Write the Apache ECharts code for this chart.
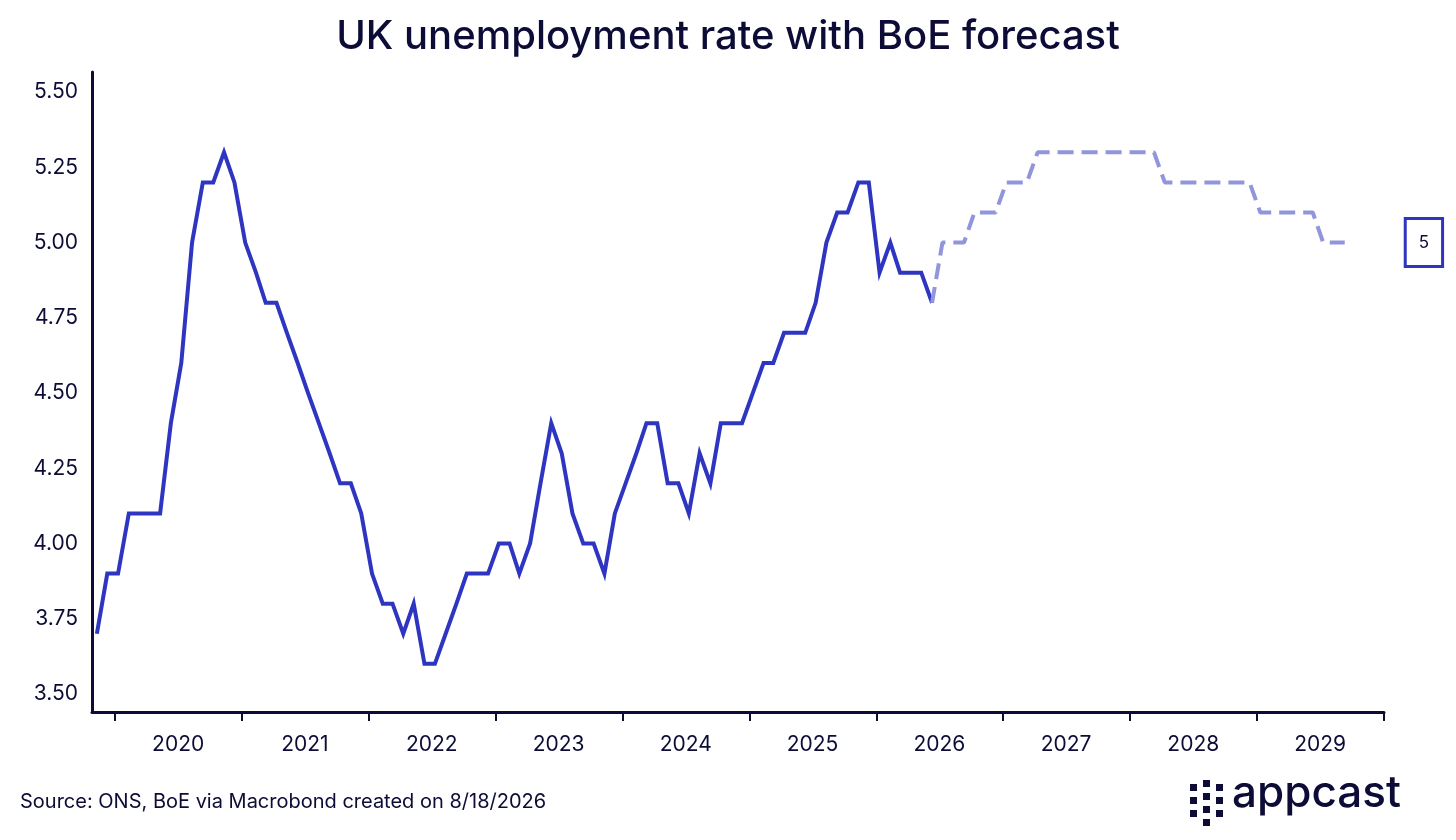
<!DOCTYPE html>
<html lang="en" style="height: 100%">
<head>
  <meta charset="utf-8" />
</head>
<body style="height: 100%; margin: 0; background: #fff">
  <div id="container" style="width: 1456px; height: 840px;"></div>
  <script src="https://cdn.jsdelivr.net/npm/echarts@6/dist/echarts.min.js"></script>
  <script type="text/javascript">
    // monthly unemployment rate (%), actual from Nov 2019
    var actualStart = [2019, 11];
    var actualValues = [
      3.7, 3.9,
      3.9, 4.1, 4.1, 4.1, 4.1, 4.4, 4.6, 5.0, 5.2, 5.2, 5.3, 5.2,
      5.0, 4.9, 4.8, 4.8, 4.7, 4.6, 4.5, 4.4, 4.3, 4.2, 4.2, 4.1,
      3.9, 3.8, 3.8, 3.7, 3.8, 3.6, 3.6, 3.7, 3.8, 3.9, 3.9, 3.9,
      4.0, 4.0, 3.9, 4.0, 4.2, 4.4, 4.3, 4.1, 4.0, 4.0, 3.9, 4.1,
      4.2, 4.3, 4.4, 4.4, 4.2, 4.2, 4.1, 4.3, 4.2, 4.4, 4.4, 4.4,
      4.5, 4.6, 4.6, 4.7, 4.7, 4.7, 4.8, 5.0, 5.1, 5.1, 5.2, 5.2,
      4.9, 5.0, 4.9, 4.9, 4.9, 4.8
    ];
    // BoE forecast, monthly from Jun 2026
    var forecastStart = [2026, 6];
    var forecastValues = [
      4.8, 5.0, 5.0, 5.0, 5.1, 5.1, 5.1,
      5.2, 5.2, 5.2, 5.3, 5.3, 5.3, 5.3, 5.3, 5.3, 5.3, 5.3, 5.3,
      5.3, 5.3, 5.3, 5.2, 5.2, 5.2, 5.2, 5.2, 5.2, 5.2, 5.2, 5.2,
      5.1, 5.1, 5.1, 5.1, 5.1, 5.1, 5.0, 5.0, 5.0
    ];
    var yTicks = [3.5, 3.75, 4.0, 4.25, 4.5, 4.75, 5.0, 5.25, 5.5];
    var years = [2020, 2021, 2022, 2023, 2024, 2025, 2026, 2027, 2028, 2029];

    function monthly(start, values) {
      return values.map(function (v, i) {
        return [Date.UTC(start[0], start[1] - 1 + i, 10), v];
      });
    }
    var tickTimes = years.concat([2030]).map(function (y) { return Date.UTC(y, 0, 1); });
    var labelTimes = years.map(function (y) { return Date.UTC(y, 6, 1); });

    var ink = '#0c0c36';
    var font = "Inter, 'Noto Sans', sans-serif";

    var myChart = echarts.init(document.getElementById('container'), null, { renderer: 'canvas' });

    var option = {
      animation: false,
      title: {
        text: 'UK unemployment rate with BoE forecast',
        left: 'center',
        top: 12,
        textStyle: { color: ink, fontSize: 40, fontWeight: 500, fontFamily: font }
      },
      grid: { left: 92, right: 72, top: 72, bottom: 128 },
      xAxis: {
        type: 'value',
        min: Date.UTC(2019, 9, 27),
        max: Date.UTC(2030, 0, 1),
        splitLine: { show: false },
        axisLine: { lineStyle: { color: ink, width: 3 } },
        axisTick: { show: true, customValues: tickTimes, length: 9, lineStyle: { color: ink, width: 2 } },
        axisLabel: {
          customValues: labelTimes,
          margin: 22,
          color: ink, fontSize: 21, fontFamily: font,
          formatter: function (v) { return String(new Date(v).getUTCFullYear()); }
        }
      },
      yAxis: {
        type: 'value',
        min: 3.44,
        max: 5.567,
        splitLine: { show: false },
        axisLine: { show: true, lineStyle: { color: ink, width: 3 } },
        axisTick: { show: false },
        axisLabel: {
          customValues: yTicks,
          margin: 14,
          color: ink, fontSize: 21, fontFamily: font,
          formatter: function (v) { return v.toFixed(2); }
        }
      },
      series: [
        {
          name: 'Actual',
          type: 'line',
          data: monthly(actualStart, actualValues),
          showSymbol: false,
          lineStyle: { color: '#2e35c0', width: 4, join: 'miter' }
        },
        {
          name: 'Forecast',
          type: 'line',
          data: monthly(forecastStart, forecastValues),
          showSymbol: false,
          lineStyle: { color: '#9195dc', width: 4, type: [16, 8] },
          endLabel: {
            show: true,
            distance: 62,
            formatter: function (p) { return '5'; },
            color: ink, fontSize: 17, fontFamily: font,
            backgroundColor: '#fff',
            borderColor: '#2e35c0', borderWidth: 3,
            padding: [14, 12, 14, 12]
          }
        }
      ],
      graphic: [
        {
          type: 'text', left: 20, top: 792,
          style: { text: 'Source: ONS, BoE via Macrobond created on 8/18/2026', fill: ink, fontSize: 20, fontFamily: font }
        },
        {
          type: 'group', left: 1190, top: 772,
          children: [
            { type: 'rect', shape: { x: 0, y: 4, width: 7, height: 7 }, style: { fill: ink } },
            { type: 'rect', shape: { x: 0, y: 17, width: 7, height: 7 }, style: { fill: ink } },
            { type: 'rect', shape: { x: 0, y: 30, width: 7, height: 7 }, style: { fill: ink } },
            { type: 'rect', shape: { x: 13, y: 0, width: 7, height: 7 }, style: { fill: ink } },
            { type: 'rect', shape: { x: 13, y: 13, width: 7, height: 7 }, style: { fill: ink } },
            { type: 'rect', shape: { x: 13, y: 26, width: 7, height: 7 }, style: { fill: ink } },
            { type: 'rect', shape: { x: 13, y: 39, width: 7, height: 7 }, style: { fill: ink } },
            { type: 'rect', shape: { x: 26, y: 4, width: 7, height: 7 }, style: { fill: ink } },
            { type: 'rect', shape: { x: 26, y: 17, width: 7, height: 7 }, style: { fill: ink } },
            { type: 'rect', shape: { x: 26, y: 30, width: 7, height: 7 }, style: { fill: ink } },
            { type: 'text', x: 42, y: -8, style: { text: 'appcast', fill: ink, fontSize: 44, fontWeight: 500, fontFamily: font } }
          ]
        }
      ]
    };

    myChart.setOption(option);
    window.addEventListener('resize', myChart.resize);
  </script>
</body>
</html>
